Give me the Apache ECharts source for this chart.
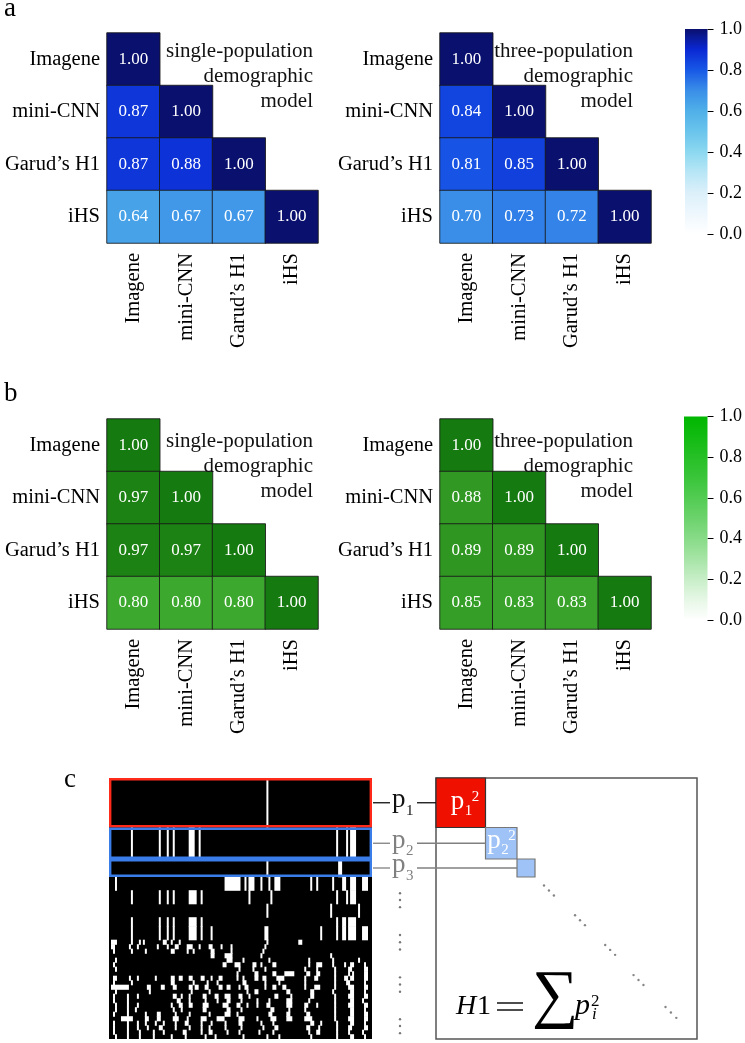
<!DOCTYPE html>
<html><head><meta charset="utf-8">
<script src="https://cdn.jsdelivr.net/npm/echarts@6/dist/echarts.min.js"></script>
<style>html,body{margin:0;padding:0;background:#fff}#c{width:745px;height:1043px}</style>
</head><body><div id="c"></div>
<script>
// ---------------- data ----------------
const methods = ['Imagene', 'mini-CNN', 'Garud\u2019s H1', 'iHS'];
const corrA1 = [[1.00], [0.87, 1.00], [0.87, 0.88, 1.00], [0.64, 0.67, 0.67, 1.00]];
const corrA2 = [[1.00], [0.84, 1.00], [0.81, 0.85, 1.00], [0.70, 0.73, 0.72, 1.00]];
const corrB1 = [[1.00], [0.97, 1.00], [0.97, 0.97, 1.00], [0.80, 0.80, 0.80, 1.00]];
const corrB2 = [[1.00], [0.88, 1.00], [0.89, 0.89, 1.00], [0.85, 0.83, 0.83, 1.00]];
const modelNotes = ['single-population\ndemographic\nmodel', 'three-population\ndemographic\nmodel'];
const cbTicks = [0.0, 0.2, 0.4, 0.6, 0.8, 1.0];
// colour maps sampled at 0.0,0.1,...,1.0
const blueMap = ['#ffffff', '#eef7fd', '#dcf0fa', '#b8e6f6', '#8cd8f0', '#6ac4ec', '#50b0e8', '#3a8ee8', '#1858e6', '#0a28d4', '#0a106e'];
const greenMap = ['#ffffff', '#eef8ec', '#d8f0d4', '#c0e6b8', '#a4dc9c', '#88d07e', '#6cc462', '#52b646', '#3ca82e', '#2e9420', '#157a0f'];
const greenBar = ['#ffffff', '#e6f7e6', '#c8eec8', '#a6e4a6', '#88db88', '#6cd36c', '#52cc52', '#3ac53a', '#26c026', '#12bb12', '#00b700'];

// haplotype matrix (panel c): each haplotype = start row, number of copies, white (derived) column runs
const NCOL = 132, NROW = 58;
const hapStarts = [0, 11, 18, 22, 25, 28, 31, 33, 36, 37, 38, 39, 40, 41, 42, 43, 44, 45, 46, 47, 48, 49, 50, 51, 52, 53, 54, 55, 56, 57];
const hapCounts = [11, 7, 4, 3, 3, 3, 2, 3, 1, 1, 1, 1, 1, 1, 1, 1, 1, 1, 1, 1, 1, 1, 1, 1, 1, 1, 1, 1, 1, 1];
const hapRuns = [
  [[79,80]],
  [[11,12],[25,26],[29,30],[32,33],[40,43],[45,46],[114,115],[119,120],[121,124]],
  [[79,80],[115,117]],
  [[3,4],[58,66],[68,69],[70,73],[76,77],[80,81],[83,86],[101,102],[104,105],[112,113],[117,119],[121,124],[127,130]],
  [[11,12],[25,26],[29,30],[32,33],[40,44],[46,47],[70,71],[81,82],[114,115],[119,120],[121,124]],
  [[79,80],[111,112],[125,126]],
  [[11,12],[25,26],[29,30],[32,33],[40,44],[46,47],[114,115],[117,119],[120,124]],
  [[11,12],[25,26],[29,30],[32,33],[40,44],[46,47],[51,52],[78,80],[106,107],[114,115],[117,119],[120,124],[127,130]],
  [[1,4],[11,12],[15,16],[17,18],[27,29],[31,32],[35,36],[79,80],[95,97]],
  [[1,3],[10,11],[14,15],[24,25],[29,30],[33,35],[39,42],[45,46],[50,52],[56,57],[61,62],[78,79]],
  [[2,3],[11,12],[18,19],[31,33],[39,40],[42,43],[51,53],[61,62],[77,78]],
  [[51,53],[58,62],[76,77],[111,112]],
  [[3,4],[59,62],[67,68],[80,81],[100,101],[112,113],[125,126]],
  [[2,3],[57,59],[63,66],[72,74],[76,77],[82,84],[100,101],[104,107],[112,113],[118,119],[121,123],[128,129]],
  [[3,4],[65,66],[72,73],[78,79],[98,99],[104,105],[113,114],[120,122],[128,130]],
  [[64,65],[73,75],[82,84],[88,93],[99,101],[104,106],[113,114],[120,121],[122,123],[128,130]],
  [[2,4],[10,11],[14,15],[23,24],[31,33],[35,37],[40,42],[46,48],[51,52],[55,57],[64,65],[67,68],[73,75],[77,79],[84,88],[98,99],[103,105],[113,114],[118,120],[121,123],[128,130]],
  [[2,3],[11,12],[31,33],[42,43],[49,50],[54,55],[67,69],[78,79],[85,86],[98,99],[113,114],[119,121],[128,129]],
  [[1,10],[19,21],[26,28],[32,34],[40,42],[43,45],[48,50],[55,57],[59,61],[65,66],[68,70],[78,79],[82,84],[87,89],[98,99],[103,106],[113,114],[120,123],[128,130]],
  [[3,4],[20,21],[41,42],[50,51],[69,70],[73,75],[89,91],[101,103],[112,113],[121,123],[128,129]],
  [[2,3],[9,10],[14,15],[32,34],[36,37],[40,41],[47,49],[53,55],[58,61],[65,67],[70,71],[83,85],[91,92],[101,103],[113,114],[120,123],[128,130]],
  [[2,3],[9,10],[34,36],[40,41],[48,49],[54,55],[59,61],[66,67],[74,75],[80,81],[89,92],[100,101],[113,114],[121,123],[127,128]],
  [[3,4],[9,10],[14,15],[31,32],[35,37],[40,42],[47,50],[57,60],[64,66],[69,70],[74,75],[79,81],[89,92],[98,100],[104,105],[113,114],[120,123],[128,130]],
  [[3,4],[9,10],[13,14],[32,33],[36,37],[47,49],[59,61],[66,67],[81,83],[90,91],[98,99],[113,114],[121,123],[128,129]],
  [[2,3],[9,10],[18,19],[24,26],[33,34],[40,41],[50,51],[58,61],[64,65],[80,82],[89,91],[99,101],[113,114],[121,123],[128,130]],
  [[6,12],[18,20],[24,26],[32,35],[39,40],[46,49],[54,58],[65,68],[74,75],[81,84],[89,92],[98,102],[113,114],[120,123],[128,130]],
  [[2,3],[9,10],[14,15],[18,19],[23,24],[27,28],[33,34],[38,40],[46,47],[51,52],[58,59],[65,67],[76,77],[82,83],[101,103],[106,107],[114,115],[121,123],[128,129]],
  [[2,3],[9,10],[14,15],[19,20],[25,27],[33,34],[40,41],[46,47],[50,51],[58,59],[66,67],[77,78],[83,85],[99,101],[105,106],[114,115],[120,122],[128,130]],
  [[2,3],[9,10],[15,16],[22,23],[27,28],[37,39],[46,47],[50,52],[59,60],[65,66],[75,76],[82,83],[100,101],[104,106],[114,115],[120,121],[127,128]],
  [[3,4],[9,10],[15,16],[22,23],[31,32],[38,39],[48,49],[53,54],[67,68],[79,80],[85,86],[101,102],[114,115],[121,123],[128,129]]
];
// highlighted haplotype groups (most frequent first)
const groupIdx = [0, 1, 2];
const groupBox = ['#ff2a1a', '#3a7de8', '#3a7de8'];
const sqFill = ['#f01000', '#9fc3f7', '#9fc3f7'];
const sqStroke = ['#333333', '#777777', '#777777'];
const pColor = ['#111111', '#808080', '#808080'];
const pSub = ['1', '2', '3'];
const diagDots = [[24.0,23.9],[25.1,25.0],[26.2,26.1],[30.9,30.5],[32.0,31.6],[33.1,32.7],[37.6,37.1],[38.7,38.2],[39.8,39.3],[43.9,43.8],[45.0,44.9],[46.1,46.0],[51.0,50.9],[52.2,52.1],[53.4,53.3]];
const vDotRows = [25.6, 27.1, 28.7, 34.9, 36.5, 38.1, 44.3, 45.9, 47.5, 53.6, 55.1, 56.7];

// ---------------- chart ----------------
const FONT = '"Liberation Serif", "Times New Roman", serif';
function tri(m) { const d = []; m.forEach((row, i) => row.forEach((v, j) => d.push([j, i, v]))); return d; }
function stops(cols) { return cols.map((c, i) => ({ offset: i / (cols.length - 1), color: c })); }

const heatPos = [[107, 33], [440, 33], [107, 419], [440, 419]];
const grids = heatPos.map(p => ({ left: p[0], top: p[1], width: 211, height: 210 }));
grids.push({ left: 685, top: 29, width: 25, height: 205 });
grids.push({ left: 684, top: 416.5, width: 26, height: 203.5 });
grids.push({ left: 109, top: 778, width: 263, height: 261, show: true, backgroundColor: '#000', borderWidth: 0 });
grids.push({ left: 436, top: 778, width: 261, height: 261, show: true, backgroundColor: 'transparent', borderColor: '#555', borderWidth: 1.5 });

const xAxis = [], yAxis = [];
for (let i = 0; i < 4; i++) {
  xAxis.push({ type: 'category', gridIndex: i, data: methods, axisLine: { show: false }, axisTick: { show: false }, splitLine: { show: false },
    axisLabel: { rotate: 90, margin: 10, fontSize: 20.5, color: '#000', fontFamily: FONT } });
  yAxis.push({ type: 'category', gridIndex: i, data: methods, inverse: true, axisLine: { show: false }, axisTick: { show: false }, splitLine: { show: false },
    axisLabel: { margin: 7, fontSize: 20.5, color: '#000', fontFamily: FONT } });
}
for (let i = 4; i < 6; i++) {
  xAxis.push({ type: 'value', gridIndex: i, min: 0, max: 1, show: false });
  yAxis.push({ type: 'value', gridIndex: i, min: cbTicks[0], max: cbTicks[cbTicks.length - 1], interval: 0.2, position: 'right',
    axisLine: { show: false, onZero: false },
    axisTick: { show: true, length: 6, lineStyle: { color: '#000', width: 1 } }, splitLine: { show: false },
    axisLabel: { margin: 12, fontSize: 18, color: '#000', fontFamily: FONT, formatter: v => v.toFixed(1) } });
}
xAxis.push({ type: 'value', gridIndex: 6, min: 0, max: NCOL, show: false });
yAxis.push({ type: 'value', gridIndex: 6, min: 0, max: NROW, inverse: true, show: false });
xAxis.push({ type: 'value', gridIndex: 7, min: 0, max: NROW, show: false });
yAxis.push({ type: 'value', gridIndex: 7, min: 0, max: NROW, inverse: true, show: false });

function heatSeries(i, m) {
  return { type: 'heatmap', xAxisIndex: i, yAxisIndex: i, data: tri(m), silent: true,
    label: { show: true, color: '#fff', fontSize: 17, fontFamily: FONT, formatter: p => p.value[2].toFixed(2) },
    itemStyle: { borderColor: 'rgba(25,25,25,0.85)', borderWidth: 1 }, emphasis: { disabled: true } };
}
function barSeries(i, cols) {
  return { type: 'custom', xAxisIndex: i, yAxisIndex: i, silent: true, z: 1, data: [[0, 1]],
    renderItem: (params, api) => {
      const a = api.coord([0, 1]), b = api.coord([1, 0]);
      return { type: 'rect', shape: { x: a[0], y: a[1], width: b[0] - a[0], height: b[1] - a[1] },
        style: { fill: new echarts.graphic.LinearGradient(0, 1, 0, 0, stops(cols)) } };
    } };
}

const series = [
  heatSeries(0, corrA1), heatSeries(1, corrA2), heatSeries(2, corrB1), heatSeries(3, corrB2),
  barSeries(4, blueMap), barSeries(5, greenBar),
  { type: 'custom', xAxisIndex: 6, yAxisIndex: 6, silent: true, clip: true,
    data: hapStarts.map((s, i) => [s, hapCounts[i]]),
    renderItem: (params, api) => {
      const s = api.value(0), n = api.value(1);
      return { type: 'group', children: hapRuns[params.dataIndex].map(r => {
        const a = api.coord([r[0], s]), b = api.coord([r[1], s + n]);
        return { type: 'rect', shape: { x: a[0], y: a[1] - 0.3, width: b[0] - a[0], height: b[1] - a[1] + 0.6 }, style: { fill: '#fff' } };
      }) };
    } },
  { type: 'custom', xAxisIndex: 6, yAxisIndex: 6, silent: true,
    data: groupIdx.map(k => [hapStarts[k], hapCounts[k]]),
    renderItem: (params, api) => {
      const s = api.value(0), n = api.value(1);
      const a = api.coord([0, s]), b = api.coord([NCOL, s + n]);
      return { type: 'rect', shape: { x: a[0] + 1.2, y: a[1] + 1.2, width: b[0] - a[0] - 2.4, height: b[1] - a[1] - 2.4 },
        style: { fill: 'none', stroke: groupBox[params.dataIndex], lineWidth: 2.4 } };
    } },
  { type: 'custom', xAxisIndex: 7, yAxisIndex: 7, silent: true,
    data: groupIdx.map(k => [hapStarts[k], hapCounts[k]]),
    renderItem: (params, api) => {
      const s = api.value(0), n = api.value(1);
      const a = api.coord([s, s]), b = api.coord([s + n, s + n]);
      return { type: 'rect', shape: { x: a[0], y: a[1], width: b[0] - a[0], height: b[1] - a[1] },
        style: { fill: sqFill[params.dataIndex], stroke: sqStroke[params.dataIndex], lineWidth: 1.2 } };
    } },
  { type: 'scatter', xAxisIndex: 7, yAxisIndex: 7, silent: true, data: diagDots, symbolSize: 2.4, itemStyle: { color: '#666' } }
];

const option = {
  animation: false,
  textStyle: { fontFamily: FONT },
  grid: grids, xAxis, yAxis, series,
  visualMap: [
    { type: 'continuous', show: false, min: 0, max: 1, dimension: 2, seriesIndex: [0, 1], inRange: { color: blueMap } },
    { type: 'continuous', show: false, min: 0, max: 1, dimension: 2, seriesIndex: [2, 3], inRange: { color: greenMap } }
  ]
};

const chart = echarts.init(document.getElementById('c'), null, { renderer: 'canvas' });
chart.setOption(option);

// ---------------- annotations ----------------
function T(x, base, str, size, o) {
  o = o || {};
  return { type: 'text', x: x, y: base - 0.3375 * size, silent: true, z: 100,
    style: { text: str, fill: o.fill || '#000', fontSize: size, fontFamily: FONT, fontStyle: o.italic ? 'italic' : 'normal',
      align: o.align || 'left', verticalAlign: 'middle' } };
}
const G = [];
G.push(T(4, 18.5, 'a', 27), T(4, 403, 'b', 27), T(64, 789, 'c', 27));
[[313, 39.4, 0], [633, 39.4, 1], [313, 429.4, 0], [633, 429.4, 1]].forEach(p => {
  G.push({ type: 'text', x: p[0], y: p[1], silent: true, z: 100,
    style: { text: modelNotes[p[2]], fill: '#111', fontSize: 21, fontFamily: FONT, align: 'right', verticalAlign: 'top', lineHeight: 25 } });
});

const mRight = chart.convertToPixel({ gridIndex: 6 }, [NCOL, 0])[0];
groupIdx.forEach((k, i) => {
  const yc = hapStarts[k] + hapCounts[k] / 2;
  const y = chart.convertToPixel({ gridIndex: 6 }, [NCOL, yc])[1];
  const sq = chart.convertToPixel({ gridIndex: 7 }, [hapStarts[k], yc]);
  G.push({ type: 'line', silent: true, z: 100, shape: { x1: mRight + 1, y1: y, x2: mRight + 18, y2: y }, style: { stroke: pColor[i], lineWidth: 1.3 } });
  G.push({ type: 'line', silent: true, z: 100, shape: { x1: mRight + 45, y1: y, x2: sq[0], y2: y }, style: { stroke: pColor[i], lineWidth: 1.3 } });
  G.push(T(mRight + 20, y + 6.5, 'p', 27, { fill: pColor[i] }));
  G.push(T(mRight + 34, y + 13, pSub[i], 15, { fill: pColor[i] }));
});
vDotRows.forEach(r => {
  const y = chart.convertToPixel({ gridIndex: 6 }, [NCOL, r])[1];
  G.push({ type: 'circle', silent: true, z: 100, shape: { cx: mRight + 28, cy: y, r: 1.2 }, style: { fill: '#777' } });
});
// labels in the squares
[[0, -10, 8], [1, -14, 7]].forEach(s => {
  const k = groupIdx[s[0]];
  const c = chart.convertToPixel({ gridIndex: 7 }, [hapStarts[k] + hapCounts[k] / 2, hapStarts[k] + hapCounts[k] / 2]);
  const x = c[0] + s[1], b = c[1] + s[2];
  G.push(T(x, b, 'p', 27, { fill: '#fff' }));
  G.push(T(x + 14, b + 5, pSub[s[0]], 15, { fill: '#fff' }));
  G.push(T(x + 21, b - 9, '2', 15, { fill: '#fff' }));
});
// formula H1 = sum p_i^2
const o7 = chart.convertToPixel({ gridIndex: 7 }, [0, NROW]);
const fx = o7[0], fb = o7[1] - 23;
G.push(T(fx + 20, fb, 'H', 28, { italic: true }));
G.push(T(fx + 41, fb, '1', 28));
G.push({ type: 'line', silent: true, z: 100, shape: { x1: fx + 61, y1: fb - 13, x2: fx + 87, y2: fb - 13 }, style: { stroke: '#000', lineWidth: 1.4 } });
G.push({ type: 'line', silent: true, z: 100, shape: { x1: fx + 61, y1: fb - 6, x2: fx + 87, y2: fb - 6 }, style: { stroke: '#000', lineWidth: 1.4 } });
G.push(T(fx + 96, fb + 3.5, '\u2211', 65));
G.push(T(fx + 139, fb, 'p', 30, { italic: true }));
G.push(T(fx + 155, fb - 9, '2', 17));
G.push(T(fx + 156, fb + 4, 'i', 17, { italic: true }));

chart.setOption({ graphic: { elements: G } });
</script>
</body></html>
